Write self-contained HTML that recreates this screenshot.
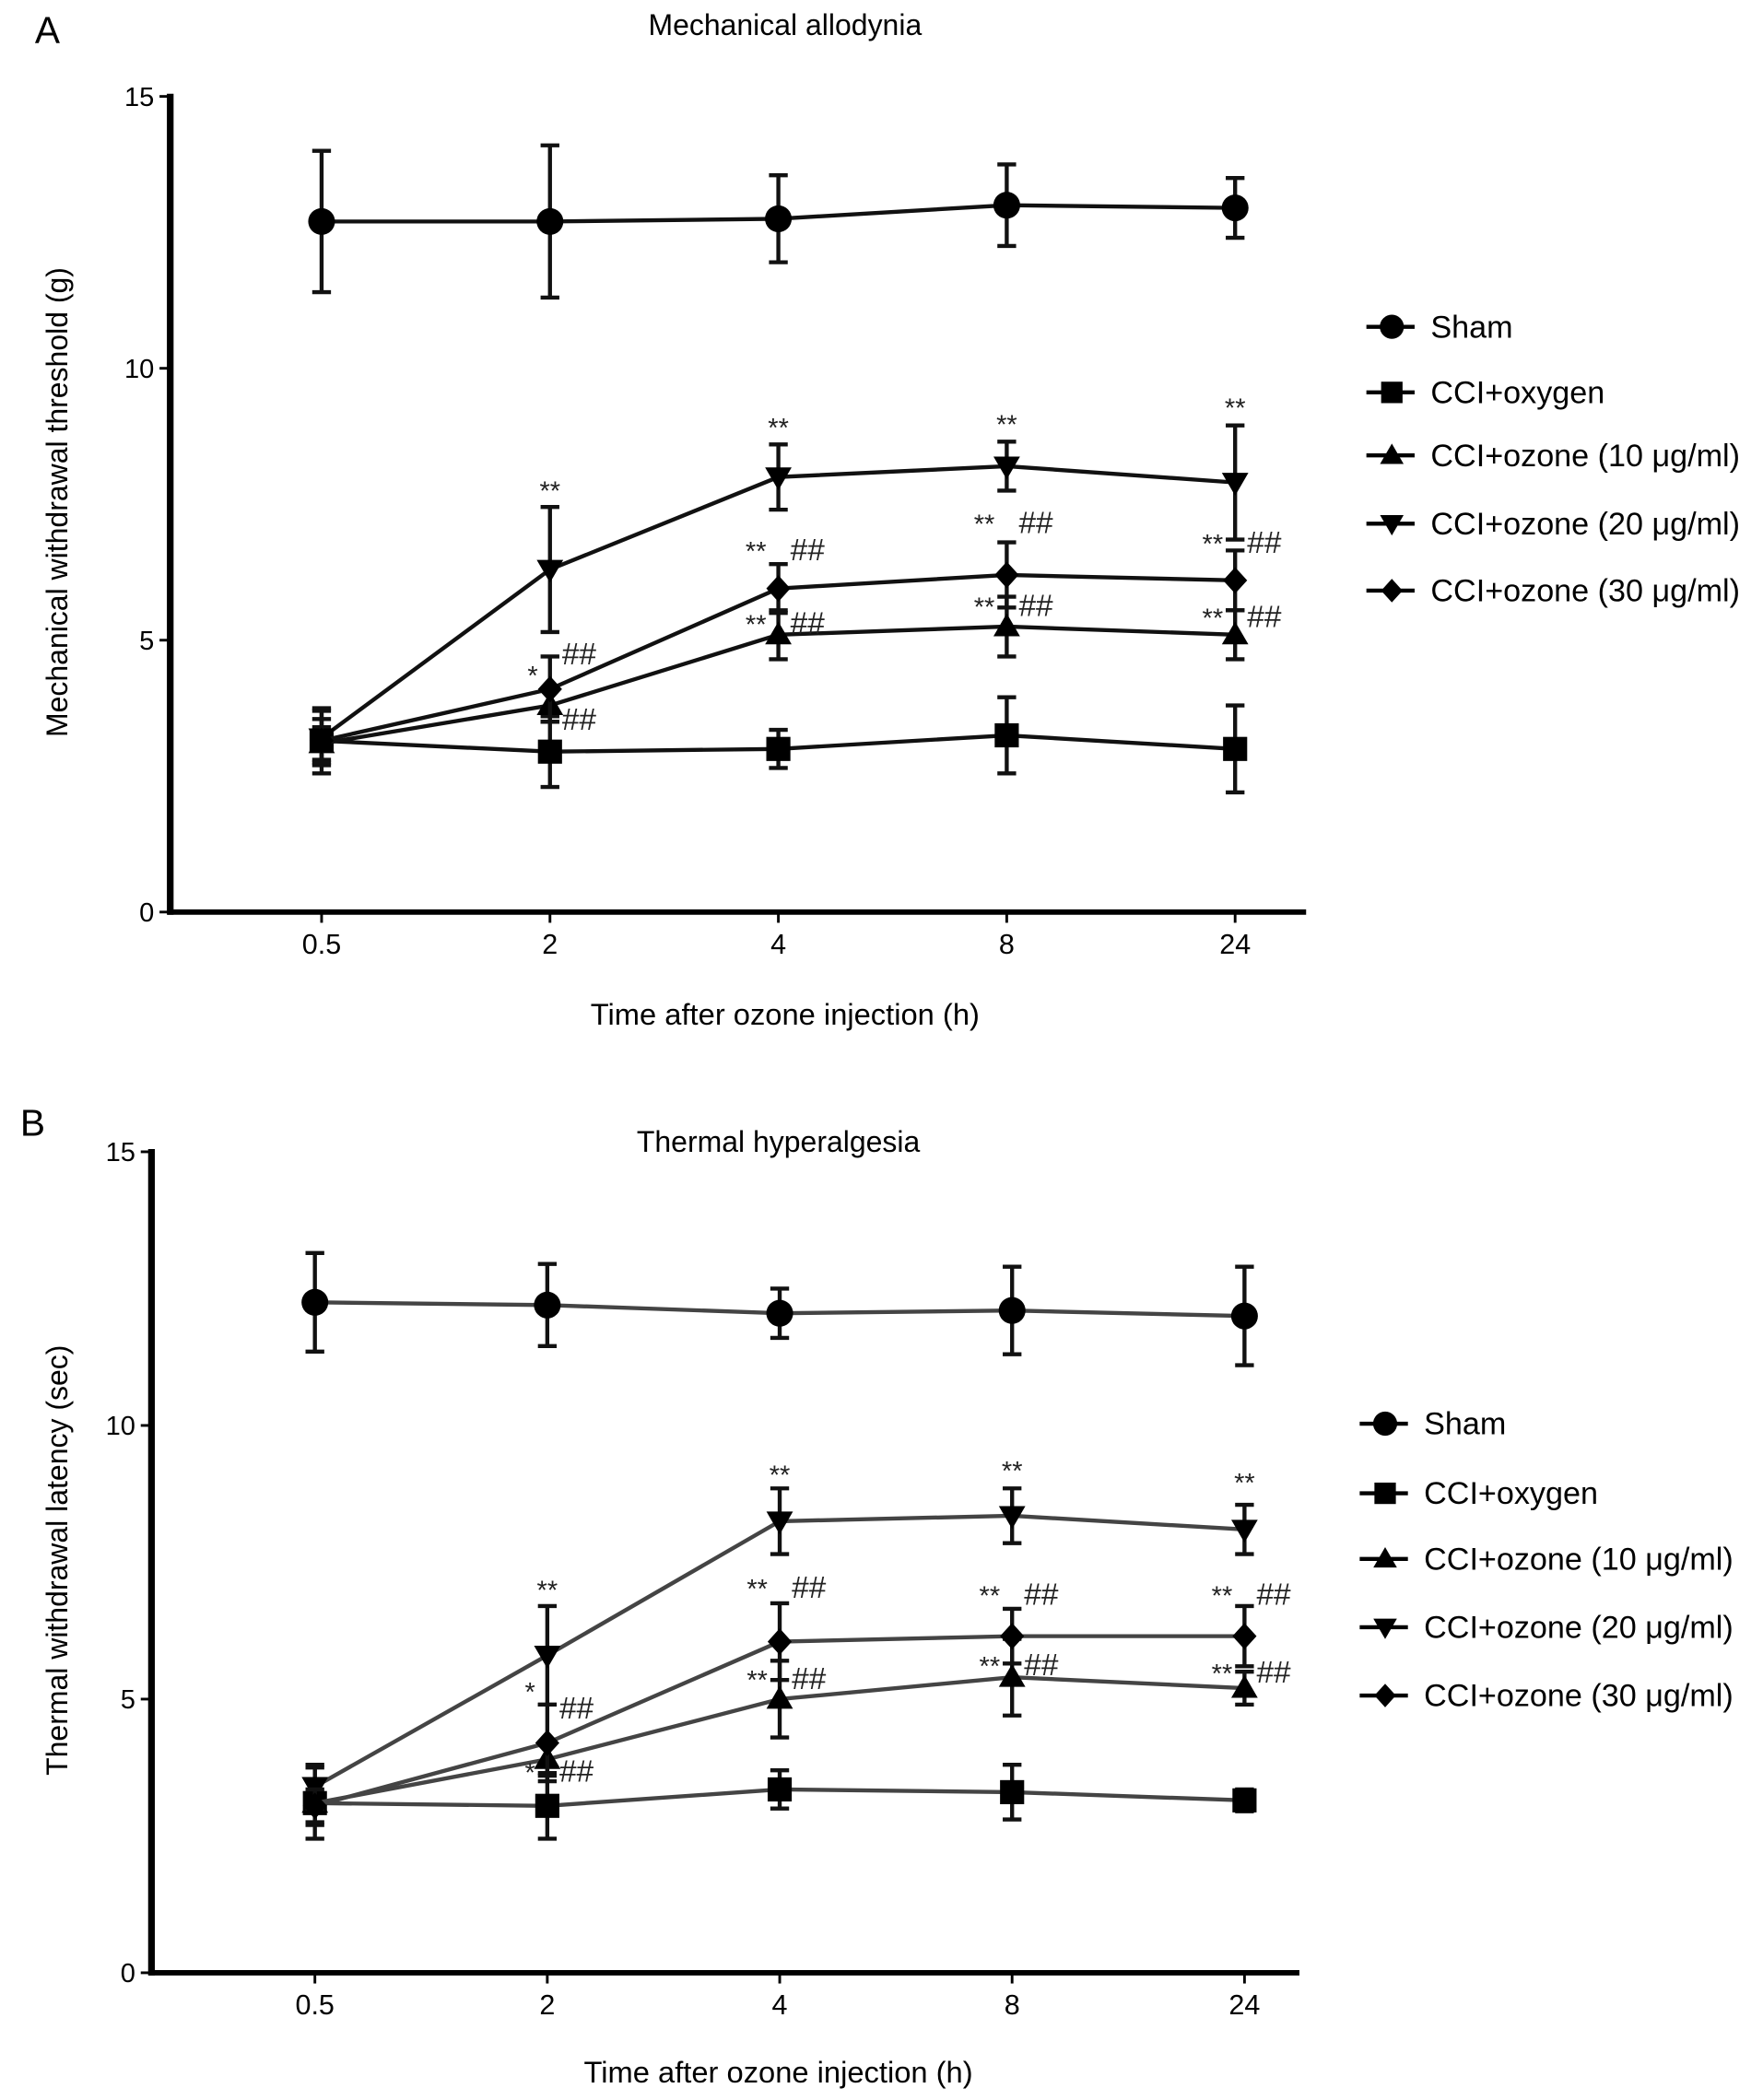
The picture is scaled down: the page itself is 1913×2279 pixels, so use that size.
<!DOCTYPE html>
<html><head><meta charset="utf-8">
<style>
html,body{margin:0;padding:0;background:#fff;}
svg{display:block;font-family:"Liberation Sans",sans-serif;}
</style></head>
<body>
<svg id="fig" width="1913" height="2279" viewBox="0 0 1316 1568" xmlns="http://www.w3.org/2000/svg">
</svg>
<script>
// ===== Data =====
const categories = ["0.5","2","4","8","24"];
const yTicks = [0,5,10,15];
const seriesNames = ["Sham","CCI+oxygen","CCI+ozone (10 \u03bcg/ml)","CCI+ozone (20 \u03bcg/ml)","CCI+ozone (30 \u03bcg/ml)"];
const seriesMarkers = ["circle","square","triUp","triDown","diamond"];
// Panel A
const aSham = [12.7,12.7,12.75,13.0,12.95];
const aShamErr = [1.3,1.4,0.8,0.75,0.55];
const aOxy = [3.15,2.95,3.0,3.25,3.0];
const aOxyErr = [0.6,0.65,0.35,0.7,0.8];
const aOz10 = [3.1,3.8,5.1,5.25,5.1];
const aOz10Err = [0.3,0.3,0.45,0.55,0.45];
const aOz20 = [3.2,6.3,8.0,8.2,7.9];
const aOz20Err = [0.5,1.15,0.6,0.45,1.05];
const aOz30 = [3.15,4.1,5.95,6.2,6.1];
const aOz30Err = [0.4,0.6,0.45,0.6,0.55];
// Panel B
const bSham = [12.25,12.2,12.05,12.1,12.0];
const bShamErr = [0.9,0.75,0.45,0.8,0.9];
const bOxy = [3.1,3.05,3.35,3.3,3.15];
const bOxyErr = [0.65,0.6,0.35,0.5,0.2];
const bOz10 = [3.1,3.9,5.0,5.4,5.2];
const bOz10Err = [0.4,0.3,0.7,0.7,0.3];
const bOz20 = [3.4,5.8,8.25,8.35,8.1];
const bOz20Err = [0.4,0.9,0.6,0.5,0.45];
const bOz30 = [3.05,4.2,6.05,6.15,6.15];
const bOz30Err = [0.3,0.7,0.7,0.5,0.55];
// Annotations: [xIndex, yValue, leftText, rightText]
const aNotes = [[1,7.78,"**",""],[2,8.94,"**",""],[3,9.0,"**",""],[4,9.3,"**",""],
 [2,6.67,"**","##"],[3,7.17,"**","##"],[4,6.8,"**","##"],
 [2,5.32,"**","##"],[3,5.64,"**","##"],[4,5.44,"**","##"],
 [1,4.38,"*",""],[1,4.75,"","##"],[1,3.55,"","##"]];
const bNotes = [[1,7.02,"**",""],[2,9.13,"**",""],[3,9.2,"**",""],[4,8.98,"**",""],
 [2,7.05,"**","##"],[3,6.92,"**","##"],[4,6.92,"**","##"],
 [2,5.38,"**","##"],[3,5.63,"**","##"],[4,5.5,"**","##"],
 [1,5.16,"*",""],[1,4.84,"","##"],[1,3.69,"*","##"]];

const NS="http://www.w3.org/2000/svg";
const svg=document.getElementById('fig');
function mk(tag,attrs,parent){const e=document.createElementNS(NS,tag);for(const k in attrs)e.setAttribute(k,attrs[k]);(parent||svg).appendChild(e);return e;}

function marker(g,type,cx,cy,s,color){
  let e;
  if(type==="circle") e=mk('circle',{cx:cx,cy:cy,r:s},g);
  else if(type==="square") e=mk('rect',{x:cx-s,y:cy-s,width:2*s,height:2*s},g);
  else if(type==="triUp") e=mk('polygon',{points:`${cx},${cy-s*1.1} ${cx-s*1.1},${cy+s*0.8} ${cx+s*1.1},${cy+s*0.8}`},g);
  else if(type==="triDown") e=mk('polygon',{points:`${cx},${cy+s*1.1} ${cx-s*1.1},${cy-s*0.8} ${cx+s*1.1},${cy-s*0.8}`},g);
  else e=mk('polygon',{points:`${cx},${cy-s*1.1} ${cx+s},${cy} ${cx},${cy+s*1.1} ${cx-s},${cy}`},g);
  e.setAttribute('fill',color);
  return e;
}

function panel(cfg){
  const g=mk('g',{});
  
  
  const yS=v=>cfg.y0-(cfg.y0-cfg.y15)*v/15;
  const xS=i=>cfg.xs0+i*cfg.xstep;
  const ax=mk('line',{x1:cfg.ax,y1:cfg.y15-2,x2:cfg.ax,y2:cfg.y0+2,stroke:'#000','stroke-width':5},g);
  
  const bx=mk('line',{x1:cfg.ax-2,y1:cfg.y0,x2:cfg.axR,y2:cfg.y0,stroke:'#000','stroke-width':4},g);
  
  yTicks.forEach(t=>{
    mk('line',{x1:cfg.ax-8,y1:yS(t),x2:cfg.ax,y2:yS(t),stroke:'#000','stroke-width':2},g);
    const tx=mk('text',{x:cfg.ax-12,y:yS(t)+7,'text-anchor':'end','font-size':20},g);
    tx.textContent=t;
    
  });
  categories.forEach((c,i)=>{
    mk('line',{x1:xS(i),y1:cfg.y0,x2:xS(i),y2:cfg.y0+8,stroke:'#000','stroke-width':2},g);
    const tx=mk('text',{x:xS(i),y:cfg.y0+31,'text-anchor':'middle','font-size':21},g);
    tx.textContent=c;
    
  });
  let t=mk('text',{x:cfg.xtX,y:cfg.xtY,'text-anchor':'middle','font-size':22.5},g);
  t.textContent="Time after ozone injection (h)";
  
  t=mk('text',{x:0,y:0,'text-anchor':'middle','font-size':22,transform:`translate(50,${cfg.ytY}) rotate(-90)`},g);
  t.textContent=cfg.ytitle;
  
  t=mk('text',{x:cfg.titleX,y:cfg.titleY,'text-anchor':'middle','font-size':22},g);
  t.textContent=cfg.title;
  
  t=mk('text',{x:cfg.letterX,y:cfg.letterY,'font-size':28},g);
  t.textContent=cfg.letter;
  
  cfg.series.forEach((s,si)=>{
    const sg=mk('g',{},g);
    
    const pts=s.v.map((v,i)=>xS(i)+','+yS(v)).join(' ');
    const pl=mk('polyline',{points:pts,fill:'none',stroke:cfg.lineColor,'stroke-width':3},sg);
    
    s.v.forEach((v,i)=>{
      const x=xS(i),hi=yS(v+s.e[i]),lo=yS(v-s.e[i]);
      const eb=mk('path',{d:`M${x},${hi}V${lo}M${x-7},${hi}H${x+7}M${x-7},${lo}H${x+7}`,stroke:'#111','stroke-width':3,fill:'none'},sg);
      
      const m=marker(sg,seriesMarkers[si],x,yS(v),si===0?10:9,'#000');
      
    });
  });
  cfg.notes.forEach(n=>{
    const x=xS(n[0]),y=yS(n[1])+8;
    if(n[2]){const a=mk('text',{x:x-9,y:y,'text-anchor':'end','font-size':20,fill:'#222'},g);a.textContent=n[2];
      }
    if(n[3]){const a=mk('text',{x:x+9,y:y,'font-size':23,fill:'#222'},g);a.textContent=n[3];
      }
  });
  const lg=mk('g',{},g);
  
  seriesNames.forEach((nm,i)=>{
    const y=cfg.legY[i];
    const le=mk('g',{},lg);
    
    mk('line',{x1:cfg.legX,y1:y,x2:cfg.legX+36,y2:y,stroke:'#000','stroke-width':3},le);
    marker(le,seriesMarkers[i],cfg.legX+19,y,i===0?9:8,'#000');
    const tx=mk('text',{x:cfg.legX+48,y:y+8,'font-size':23.5},le);
    tx.textContent=nm;
  });
}

panel({name:'panel-a',y0:681,y15:72,ax:127,axR:975,xs0:240,xstep:170.5,xtX:586,xtY:765,ytY:375,
  ytitle:"Mechanical withdrawal threshold (g)",title:"Mechanical allodynia",titleX:586,titleY:26,
  letter:"A",letterX:26,letterY:32,lineColor:'#111',
  series:[{v:aSham,e:aShamErr},{v:aOxy,e:aOxyErr},{v:aOz10,e:aOz10Err},{v:aOz20,e:aOz20Err},{v:aOz30,e:aOz30Err}],
  notes:aNotes.map(n=>n[3]===""&&n[2]==="**"?[n[0],n[1],"",""]:n),
  legX:1020,legY:[244,293,340,391,441]});
panel({name:'panel-b',y0:1473,y15:860,ax:113,axR:970,xs0:235,xstep:173.5,xtX:581,xtY:1555,ytY:1165,
  ytitle:"Thermal withdrawal latency (sec)",title:"Thermal hyperalgesia",titleX:581,titleY:860,
  letter:"B",letterX:15,letterY:848,lineColor:'#444',
  series:[{v:bSham,e:bShamErr},{v:bOxy,e:bOxyErr},{v:bOz10,e:bOz10Err},{v:bOz20,e:bOz20Err},{v:bOz30,e:bOz30Err}],
  notes:bNotes.map(n=>n[3]===""&&n[2]==="**"?[n[0],n[1],"",""]:n),
  legX:1015,legY:[1063,1115,1164,1215,1266]});

function topStars(notes,y0,y15,xs0,xstep){
  notes.filter(n=>n[3]===""&&n[2]==="**").forEach(n=>{
    const x=xs0+n[0]*xstep,y=y0-(y0-y15)*n[1]/15+8;
    const a=mk('text',{x:x,y:y,'text-anchor':'middle','font-size':20,fill:'#222'});
    a.textContent="**";
    
    
  });
}
topStars(aNotes,681,72,240,170.5);
topStars(bNotes,1473,860,235,173.5);
</script>
</body></html>
